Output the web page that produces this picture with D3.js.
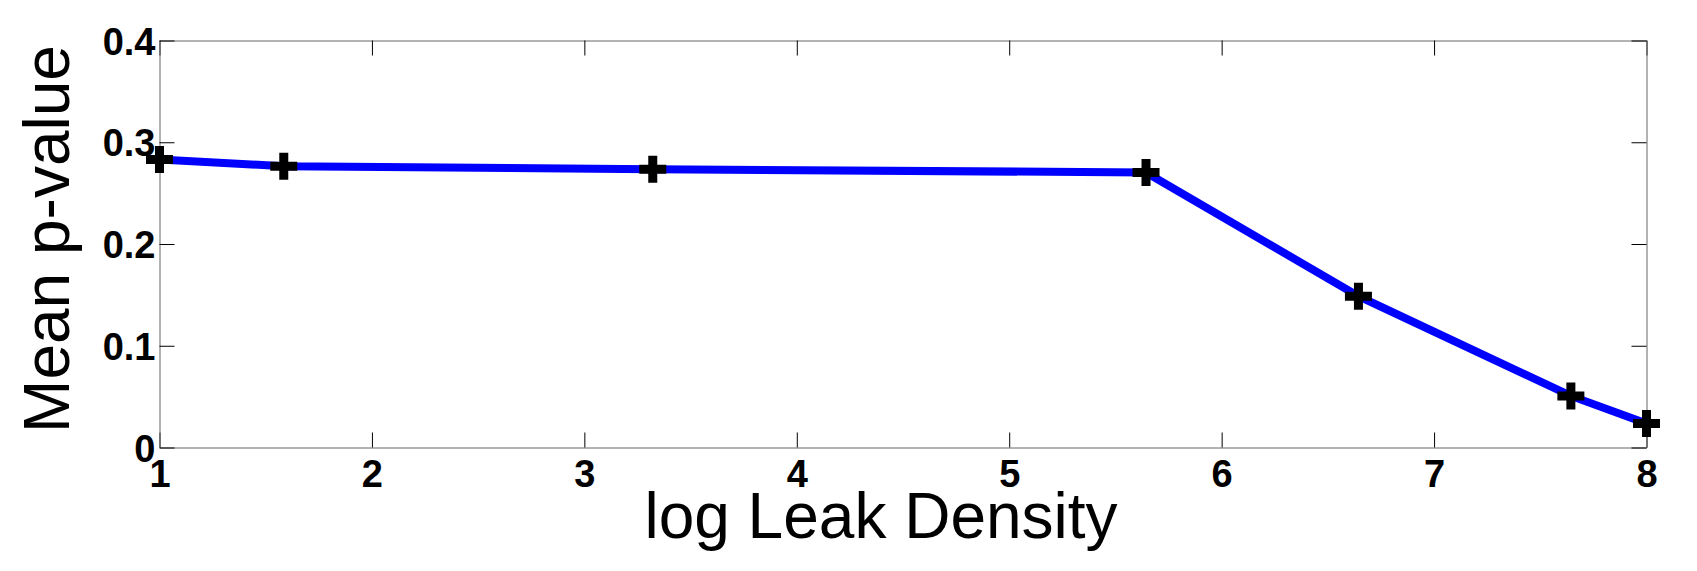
<!DOCTYPE html>
<html>
<head>
<meta charset="utf-8">
<script src="https://cdn.jsdelivr.net/npm/d3@7/dist/d3.min.js"></script>
<style>
  html, body { margin: 0; padding: 0; background: #fff; }
  svg { display: block; font-family: "Liberation Sans", Arial, sans-serif; }
</style>
</head>
<body>
<svg id="chart"></svg>
<script>
// data
const logDensity = [1, 1.585, 3.322, 5.644, 6.644, 7.644, 8];
const meanP = [0.283, 0.2765, 0.2735, 0.2703, 0.1487, 0.0507, 0.0236];
const xTicks = [1, 2, 3, 4, 5, 6, 7, 8];
const yTicks = [0, 0.1, 0.2, 0.3, 0.4];
const xLabel = "log Leak Density";
const yLabel = "Mean p-value";

const width = 1697, height = 571;
const margin = { top: 40.5, right: 50.5, bottom: 123.5, left: 159.5 };

const svg = d3.select("#chart").attr("width", width).attr("height", height);

const x = d3.scaleLinear().domain([1, 8]).range([margin.left, width - margin.right]);
const y = d3.scaleLinear().domain([0, 0.4]).range([height - margin.bottom, margin.top]);

const tickLen = 15;

// box + ticks
const styleAxis = (g) => {
  g.select(".domain").attr("stroke", "#666").attr("stroke-width", 1);
  g.selectAll(".tick line").attr("stroke", "#000").attr("stroke-width", 1);
};

svg.append("g")
  .attr("transform", `translate(0,${y(0)})`)
  .call(d3.axisBottom(x).tickValues(xTicks).tickFormat(d3.format("d"))
    .tickSizeInner(-tickLen).tickSizeOuter(0).tickPadding(0))
  .call(styleAxis)
  .call((g) => g.selectAll(".tick text")
    .attr("y", 39.5).attr("dy", null)
    .attr("fill", "#000")
    .style("font-size", "38px").style("font-weight", "bold")
    .style("font-family", "'Liberation Sans', Arial, sans-serif"));

svg.append("g")
  .attr("transform", `translate(0,${y(0.4)})`)
  .call(d3.axisTop(x).tickValues(xTicks).tickFormat("")
    .tickSizeInner(-tickLen).tickSizeOuter(0))
  .call(styleAxis);

svg.append("g")
  .attr("transform", `translate(${x(1)},0)`)
  .call(d3.axisLeft(y).tickValues(yTicks).tickFormat((d) => (d === 0 ? "0" : d3.format(".1f")(d)))
    .tickSizeInner(-tickLen).tickSizeOuter(0))
  .call(styleAxis)
  .call((g) => g.selectAll(".tick text")
    .attr("x", -4).attr("dy", "0.36em")
    .attr("fill", "#000")
    .style("font-size", "38px").style("font-weight", "bold")
    .style("font-family", "'Liberation Sans', Arial, sans-serif"));

svg.append("g")
  .attr("transform", `translate(${x(8)},0)`)
  .call(d3.axisRight(y).tickValues(yTicks).tickFormat("")
    .tickSizeInner(-tickLen).tickSizeOuter(0))
  .call(styleAxis);

// series
const pts = logDensity.map((d, i) => [d, meanP[i]]);

svg.append("path")
  .datum(pts)
  .attr("fill", "none")
  .attr("stroke", "#0000ff")
  .attr("stroke-width", 8)
  .attr("d", d3.line().x((d) => x(d[0])).y((d) => y(d[1])));

svg.append("g")
  .selectAll("path")
  .data(pts)
  .join("path")
  .attr("transform", (d) => `translate(${x(d[0])},${y(d[1])})`)
  .attr("d", d3.symbol(d3.symbolCross, 405))
  .attr("fill", "#000");

// axis titles
svg.append("text")
  .attr("x", 881)
  .attr("y", 538)
  .attr("text-anchor", "middle")
  .style("font-size", "64px")
  .attr("fill", "#000")
  .text(xLabel);

svg.append("text")
  .attr("transform", "translate(69,239) rotate(-90)")
  .attr("text-anchor", "middle")
  .style("font-size", "64px")
  .attr("fill", "#000")
  .text(yLabel);
</script>
</body>
</html>
